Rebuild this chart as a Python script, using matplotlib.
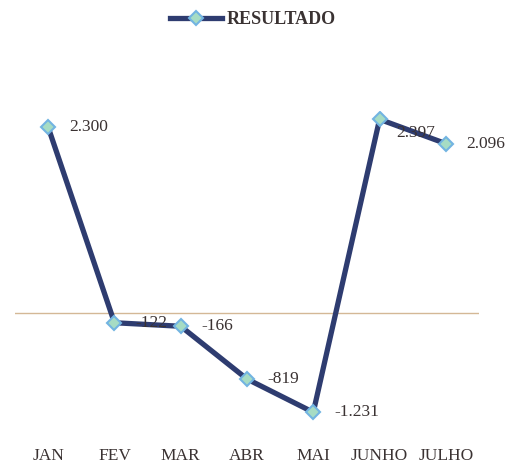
import matplotlib
matplotlib.use("Agg")
import matplotlib.pyplot as plt

months = ["JAN", "FEV", "MAR", "ABR", "MAI", "JUNHO", "JULHO"]
resultado = [2300, -122, -166, -819, -1231, 2397, 2096]
labels = ["2.300", "-122", "-166", "-819", "-1.231", "2.397", "2.096"]

LINE = "#2e3c70"
FACE = "#a6dcc4"
EDGE = "#72b4e2"
TXT = "#3a3232"

plt.rcParams["font.family"] = ["Liberation Serif", "DejaVu Serif"]

fig = plt.figure(figsize=(5.05, 4.67), dpi=100)
ax = fig.add_axes([15 / 505, (467 - 434) / 467, 464 / 505, (434 - 111) / 467])
x = list(range(len(months)))

ax.axhline(0, color="#d4b896", lw=1.0, zorder=1)
ax.plot(x, resultado, color=LINE, lw=3.8, marker="D", ms=7.5,
        mfc=FACE, mec=EDGE, mew=1.5, zorder=3, label="RESULTADO")
for i, (xi, yi, lab) in enumerate(zip(x, resultado, labels)):
    # the JUNHO label sits a bit lower in the original, over the line
    off = (12, -10) if i == 5 else (15, 0)
    ax.annotate(lab, (xi, yi), xytext=off, textcoords="offset points",
                ha="left", va="center", fontsize=12.5, color=TXT, zorder=4)

ax.set_xlim(-0.5, 6.5)
ax.set_ylim(-1500, 2500)
ax.set_xticks(x)
ax.set_xticklabels(months, fontsize=12.5, color=TXT)
ax.tick_params(axis="x", length=0, pad=10)
ax.set_yticks([])
for s in ax.spines.values():
    s.set_visible(False)

leg = fig.legend(loc="center", bbox_to_anchor=(0.5, 1 - 20 / 467), frameon=False,
                 prop={"weight": "bold", "size": 13}, handlelength=2.9,
                 handletextpad=0.25)
for t in leg.get_texts():
    t.set_color(TXT)

fig.savefig("out.png", dpi=100, facecolor="white")
